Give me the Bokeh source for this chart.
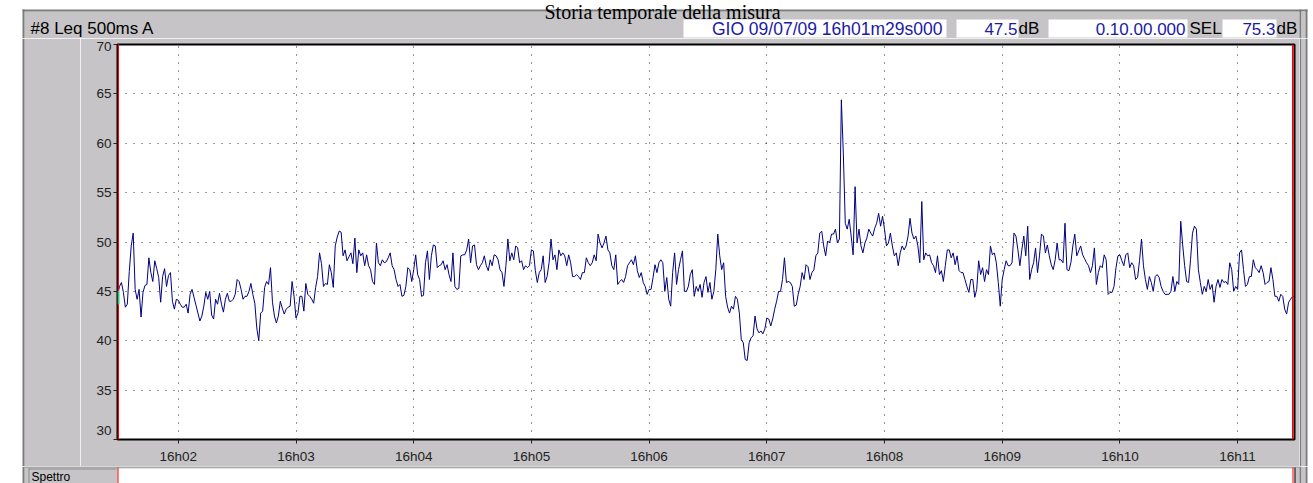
import datetime as dt
from bokeh.plotting import figure
from bokeh.layouts import column, row
from bokeh.models import ColumnDataSource, BoxAnnotation, FixedTicker, Range1d, DatetimeTickFormatter
from bokeh.core.properties import value
from bokeh.embed import file_html
from bokeh.resources import INLINE

# ---------------- data ----------------
title_text = "Storia temporale della misura"
channel_text = "#8  Leq 500ms  A"
start_text = "GIO 09/07/09 16h01m29s000"
leq_total_text = "47.5"
duration_text = "0.10.00.000"
sel_text = "75.3"
unit_text = "dB"
sel_label = "SEL"
panel_text = "Spettro"

start_time = dt.datetime(2009, 7, 9, 16, 1, 29)
duration_s = 600
sample_step_s = 1

leq_db = [
    44.5, 45.5, 45.9, 44.9, 43.4, 43.7, 47.0, 49.6, 50.9, 45.2,
    44.2, 45.2, 42.4, 44.9, 45.6, 45.7, 48.4, 46.9, 46.0, 48.1,
    47.3, 46.4, 43.9, 46.5, 47.3, 45.5, 46.6, 46.9, 44.0, 43.2,
    44.2, 44.1, 43.7, 43.4, 43.4, 43.7, 42.8, 44.7, 45.2, 44.4,
    43.6, 42.8, 42.0, 42.5, 43.5, 44.9, 44.2, 45.0, 42.6, 42.2,
    44.2, 43.7, 44.8, 43.7, 42.9, 44.2, 44.8, 44.0, 44.0, 44.2,
    44.7, 46.2, 46.0, 45.2, 44.2, 44.5, 44.5, 45.0, 45.8, 44.7,
    43.8, 41.3, 40.0, 42.8, 43.0, 45.4, 46.0, 45.7, 47.4, 43.9,
    42.5, 41.8, 42.5, 44.0, 43.3, 42.7, 43.2, 43.4, 43.5, 46.0,
    44.5, 42.3, 42.8, 44.5, 44.5, 43.0, 45.8, 44.7, 44.5, 44.2,
    43.8, 45.4, 46.5, 48.9, 47.8, 45.5, 45.8, 45.7, 47.7, 46.9,
    45.4, 49.6, 50.5, 51.1, 51.0, 48.6, 49.2, 48.1, 48.5, 48.9,
    47.8, 50.4, 46.9, 49.2, 48.6, 48.9, 47.6, 48.7, 47.6, 47.2,
    46.0, 45.7, 49.9, 47.9, 47.6, 48.2, 47.9, 48.0, 48.4, 48.9,
    47.6, 47.2, 46.2, 45.5, 45.7, 44.5, 44.6, 45.5, 47.4, 47.2,
    46.0, 47.2, 48.7, 46.7, 46.2, 44.5, 44.6, 47.9, 49.1, 46.2,
    48.6, 49.7, 49.6, 47.4, 47.6, 47.7, 48.1, 47.2, 47.7, 46.7,
    46.0, 48.9, 45.5, 45.2, 45.3, 48.6, 48.7, 48.7, 49.2, 50.3,
    47.9, 49.6, 49.7, 47.7, 47.2, 47.6, 47.9, 48.6, 47.6, 47.1,
    48.2, 47.6, 48.7, 48.6, 48.2, 47.2, 46.9, 45.5, 47.6, 50.3,
    48.1, 48.9, 48.2, 49.6, 49.4, 47.9, 48.1, 47.2, 47.6, 47.4,
    47.6, 49.2, 49.1, 47.1, 45.9, 46.9, 47.2, 48.6, 45.9, 46.5,
    47.9, 50.3, 48.2, 48.7, 47.2, 49.2, 48.6, 48.9, 48.6, 47.6,
    48.7, 47.9, 46.5, 46.5, 46.7, 46.5, 46.2, 46.9, 46.9, 48.4,
    47.9, 47.6, 47.9, 48.7, 48.1, 50.8, 49.9, 49.4, 49.9, 50.6,
    49.2, 48.9, 47.6, 47.2, 48.7, 45.7, 46.0, 46.2, 45.9, 46.5,
    47.6, 47.9, 48.2, 47.7, 48.6, 47.1, 46.4, 46.9, 45.9, 45.5,
    44.7, 45.2, 45.2, 46.4, 47.7, 46.9, 47.9, 48.2, 47.9, 45.0,
    46.4, 44.2, 43.5, 46.9, 48.9, 45.7, 47.2, 48.2, 49.1, 45.0,
    45.0, 45.5, 46.7, 47.2, 44.5, 45.5, 45.0, 45.7, 44.4, 45.9,
    46.5, 44.9, 45.9, 44.2, 45.0, 47.2, 50.8, 48.6, 47.2, 47.9,
    44.5, 43.4, 42.8, 43.5, 43.2, 44.5, 44.2, 42.8, 40.1, 39.8,
    38.1, 38.0, 39.8, 40.3, 40.5, 42.5, 41.2, 40.8, 41.0, 40.7,
    41.2, 42.3, 42.2, 41.5, 42.2, 43.2, 44.0, 45.0, 45.0, 46.2,
    48.4, 45.9, 46.0, 45.9, 45.5, 43.5, 43.6, 44.7, 45.5, 46.9,
    46.2, 47.7, 47.5, 46.2, 46.9, 47.2, 48.6, 48.9, 50.9, 51.1,
    49.6, 48.6, 50.1, 49.9, 50.8, 50.8, 51.3, 49.9, 50.3, 64.4,
    59.0, 51.9, 51.3, 52.3, 50.6, 48.7, 55.6, 49.9, 51.3, 49.6,
    48.9, 49.9, 50.4, 51.3, 50.9, 50.6, 51.4, 51.9, 52.9, 51.6,
    52.6, 51.3, 49.6, 49.9, 50.9, 49.6, 48.6, 48.9, 47.6, 48.9,
    49.6, 49.2, 49.6, 50.6, 52.4, 50.9, 50.3, 50.6, 49.6, 47.9,
    54.1, 48.2, 48.9, 48.6, 48.7, 47.9, 47.6, 46.9, 48.6, 46.7,
    47.1, 46.0, 47.6, 49.2, 49.2, 48.4, 48.9, 47.7, 48.6, 47.1,
    46.9, 46.9, 46.2, 45.5, 44.9, 46.2, 46.2, 44.4, 45.2, 48.1,
    46.7, 47.4, 46.0, 47.2, 46.7, 49.6, 48.7, 48.9, 47.9, 45.9,
    43.5, 46.2, 47.2, 48.1, 47.6, 47.6, 47.9, 50.9, 50.6, 49.2,
    47.6, 49.2, 50.6, 48.6, 51.6, 46.2, 47.2, 47.9, 49.4, 46.9,
    48.6, 50.8, 50.6, 48.9, 49.7, 48.6, 47.7, 47.2, 48.2, 49.9,
    48.2, 48.2, 47.9, 51.9, 47.2, 47.1, 47.9, 49.6, 50.8, 48.6,
    49.1, 49.6, 48.7, 48.3, 47.9, 47.6, 46.9, 47.6, 49.4, 45.7,
    46.9, 47.6, 47.4, 48.7, 48.2, 44.7, 44.9, 44.9, 45.5, 47.4,
    48.6, 48.7, 48.1, 47.6, 48.7, 48.9, 47.4, 47.9, 47.6, 46.2,
    46.4, 48.1, 50.3, 47.6, 46.2, 45.2, 46.5, 45.9, 45.0, 46.5,
    46.7, 46.4, 45.5, 45.0, 44.7, 44.7, 44.7, 45.0, 46.5, 45.0,
    46.0, 45.7, 52.1, 49.7, 47.6, 46.0, 45.9, 48.2, 50.9, 51.6,
    51.3, 47.2, 45.9, 44.7, 45.5, 45.0, 46.2, 45.2, 45.7, 43.9,
    45.5, 46.2, 45.4, 46.2, 45.9, 46.0, 45.7, 47.9, 47.2, 45.0,
    45.5, 45.2, 48.9, 49.2, 47.2, 45.5, 45.7, 46.5, 46.5, 48.2,
    47.4, 47.2, 46.9, 47.6, 46.9, 45.7, 45.9, 46.0, 47.4, 46.2,
    44.5, 44.5, 44.0, 44.7, 44.5, 43.2, 42.7, 43.9, 44.2, 44.5,
    44.5,
]

y_ticks = [30, 35, 40, 45, 50, 55, 60, 65, 70]
x_tick_labels = ["16h02", "16h03", "16h04", "16h05", "16h06",
                 "16h07", "16h08", "16h09", "16h10", "16h11"]

# ---------------- derived ----------------
times = [start_time + dt.timedelta(seconds=i * sample_step_s) for i in range(len(leq_db))]
end_time = start_time + dt.timedelta(seconds=duration_s)
epoch = dt.datetime(1970, 1, 1)


def to_ms(d):
    return (d - epoch).total_seconds() * 1000.0


tick_ms = []
for lab in x_tick_labels:
    hh, mm = lab.split("h")
    tick_ms.append(to_ms(start_time.replace(hour=int(hh), minute=int(mm), second=0)))

PANEL = "#C6C4C6"
DARK = "#7C7C7C"
BLUE = "#1A1AA6"
FONT = "Liberation Sans"
W, H = 1313, 483


# ---------------- decoration panels (page pixel coordinates) ----------------
def deco(x0, x1, y0, y1):
    f = figure(width=x1 - x0, height=y1 - y0, x_range=Range1d(x0, x1), y_range=Range1d(y1, y0),
               x_axis_type=None, y_axis_type=None, output_backend="svg",
               toolbar_location=None, min_border=0, title=None)
    f.frame_align = False
    f.outline_line_color = None
    f.background_fill_color = "white"
    f.border_fill_color = "white"
    return f


def rect(f, x0, y0, x1, y1, color):
    f.quad(left=[x0], right=[x1], top=[y0], bottom=[y1], fill_color=color, line_color=None)


def txt(f, x, y, s, size, color="black", align="left", font=FONT, baseline="middle"):
    f.text(x=[x], y=[y], text=[s], text_font=value(font), text_font_size=value(size),
           text_color=color, text_align=value(align), text_baseline=value(baseline))


MAIN_X0, MAIN_X1, MAIN_Y0, MAIN_Y1 = 80, 1299, 38, 466

# header
hdr = deco(0, W, 0, MAIN_Y0)
rect(hdr, 24, 11, 1299, MAIN_Y0, PANEL)
rect(hdr, 22, 9, 24, MAIN_Y0, DARK)
rect(hdr, 22, 9, 1307, 11, DARK)
rect(hdr, 1299, 9, 1301, MAIN_Y0, DARK)
rect(hdr, 1301, 11, 1305, MAIN_Y0, PANEL)
rect(hdr, 1305, 9, 1307, MAIN_Y0, DARK)
for bx0, bx1 in ((683, 946), (956, 1018), (1048, 1187), (1222, 1276)):
    rect(hdr, bx0, 19, bx1, 37, "white")
txt(hdr, 662, 11.5, title_text, "20px", font="Liberation Serif", align="center")
txt(hdr, 30, 28, channel_text, "17px")
txt(hdr, 942, 28, start_text, "17.5px", color=BLUE, align="right")
txt(hdr, 1017, 28, leq_total_text, "17px", color=BLUE, align="right")
txt(hdr, 1018, 28, unit_text, "17px")
txt(hdr, 1185, 28, duration_text, "17px", color=BLUE, align="right")
txt(hdr, 1189, 28, sel_label, "17px")
txt(hdr, 1275, 28, sel_text, "17px", color=BLUE, align="right")
txt(hdr, 1276, 28, unit_text, "17px")

# left and right strips beside the main plot
lft = deco(0, MAIN_X0, MAIN_Y0, MAIN_Y1)
rect(lft, 24, MAIN_Y0, MAIN_X0, MAIN_Y1, PANEL)
rect(lft, 22, MAIN_Y0, 24, MAIN_Y1, DARK)

rgt = deco(MAIN_X1, W, MAIN_Y0, MAIN_Y1)
rect(rgt, 1299, MAIN_Y0, 1301, MAIN_Y1, DARK)
rect(rgt, 1301, MAIN_Y0, 1305, MAIN_Y1, PANEL)
rect(rgt, 1305, MAIN_Y0, 1307, MAIN_Y1, DARK)

# bottom (spectrum panel)
bot = deco(0, W, MAIN_Y1, H)
rect(bot, 24, MAIN_Y1, 1299, H, PANEL)
rect(bot, 22, MAIN_Y1, 24, H, DARK)
rect(bot, 1299, MAIN_Y1, 1301, H, DARK)
rect(bot, 1301, MAIN_Y1, 1305, H, PANEL)
rect(bot, 1305, MAIN_Y1, 1307, H, DARK)
rect(bot, 24, 466, 1299, 467, "#8C8C8C")
rect(bot, 117, 468, 1294, H, "white")
rect(bot, 28, 468, 116, 469, "#8C8C8C")
rect(bot, 28, 468, 29, H, "#8C8C8C")
rect(bot, 117, 467, 118, H, "#FF0000")
rect(bot, 1292, 467, 1293, H, "#FF0000")
rect(bot, 1294, 467, 1295, H, "black")
txt(bot, 31, 476, panel_text, "12px")

# ---------------- main plot ----------------
src = ColumnDataSource(data=dict(t=times, db=leq_db))

p = figure(width=MAIN_X1 - MAIN_X0, height=MAIN_Y1 - MAIN_Y0, x_axis_type="datetime",
           x_range=Range1d(start_time, end_time), y_range=Range1d(30, 70),
           output_backend="svg", toolbar_location=None, title=None,
           min_border_left=117 - MAIN_X0, min_border_right=MAIN_X1 - 1294,
           min_border_top=44 - MAIN_Y0, min_border_bottom=MAIN_Y1 - 440)
p.frame_align = False
p.background_fill_color = "white"
p.border_fill_color = PANEL
p.outline_line_color = "black"
p.outline_line_width = 2

for ax in (p.xaxis[0], p.yaxis[0]):
    ax.axis_line_color = None
    ax.minor_tick_line_color = None
    ax.major_tick_in = 0
    ax.major_tick_line_color = "#222222"
    ax.major_label_text_font = FONT
    ax.major_label_text_font_size = "13.5px"
    ax.major_label_text_color = "#222222"

p.xaxis.ticker = FixedTicker(ticks=tick_ms)
p.xaxis.formatter = DatetimeTickFormatter(minutes="%Hh%M", hourmin="%Hh%M", hours="%Hh%M",
                                          seconds="%Hh%M", minsec="%Hh%M")
p.xaxis.major_tick_out = 4
p.xaxis.major_label_standoff = 5
p.yaxis.ticker = FixedTicker(ticks=y_ticks)
p.yaxis.major_tick_out = 4
p.yaxis.major_label_standoff = 2
p.yaxis.major_label_overrides = {y_ticks[0]: str(y_ticks[0]) + "\n"}

p.xgrid.ticker = FixedTicker(ticks=tick_ms)
p.ygrid.ticker = FixedTicker(ticks=y_ticks)
for g in (p.xgrid[0], p.ygrid[0]):
    g.grid_line_color = "#333333"
    g.grid_line_dash = "1 7"
    g.grid_line_width = 1

p.line(x="t", y="db", source=src, line_color="#000080", line_width=1)


def fbox(x0, y0, x1, y1, color):
    # box inside the frame, in page pixels (frame left = 117, bottom = 440)
    p.add_layout(BoxAnnotation(left=x0 - 117, right=x1 - 117, top=440 - y0, bottom=440 - y1,
                               left_units="screen", right_units="screen",
                               top_units="screen", bottom_units="screen",
                               fill_color=color, fill_alpha=1, line_color=None))


fbox(117, 44, 118.5, 440, "#FF0000")
fbox(1291.5, 44, 1293, 440, "#FF0000")
fbox(117, 291, 119, 305, "#22CC77")

layout = column(hdr, row(lft, p, rgt), bot)
open("out.html", "w").write(file_html(layout, INLINE))
